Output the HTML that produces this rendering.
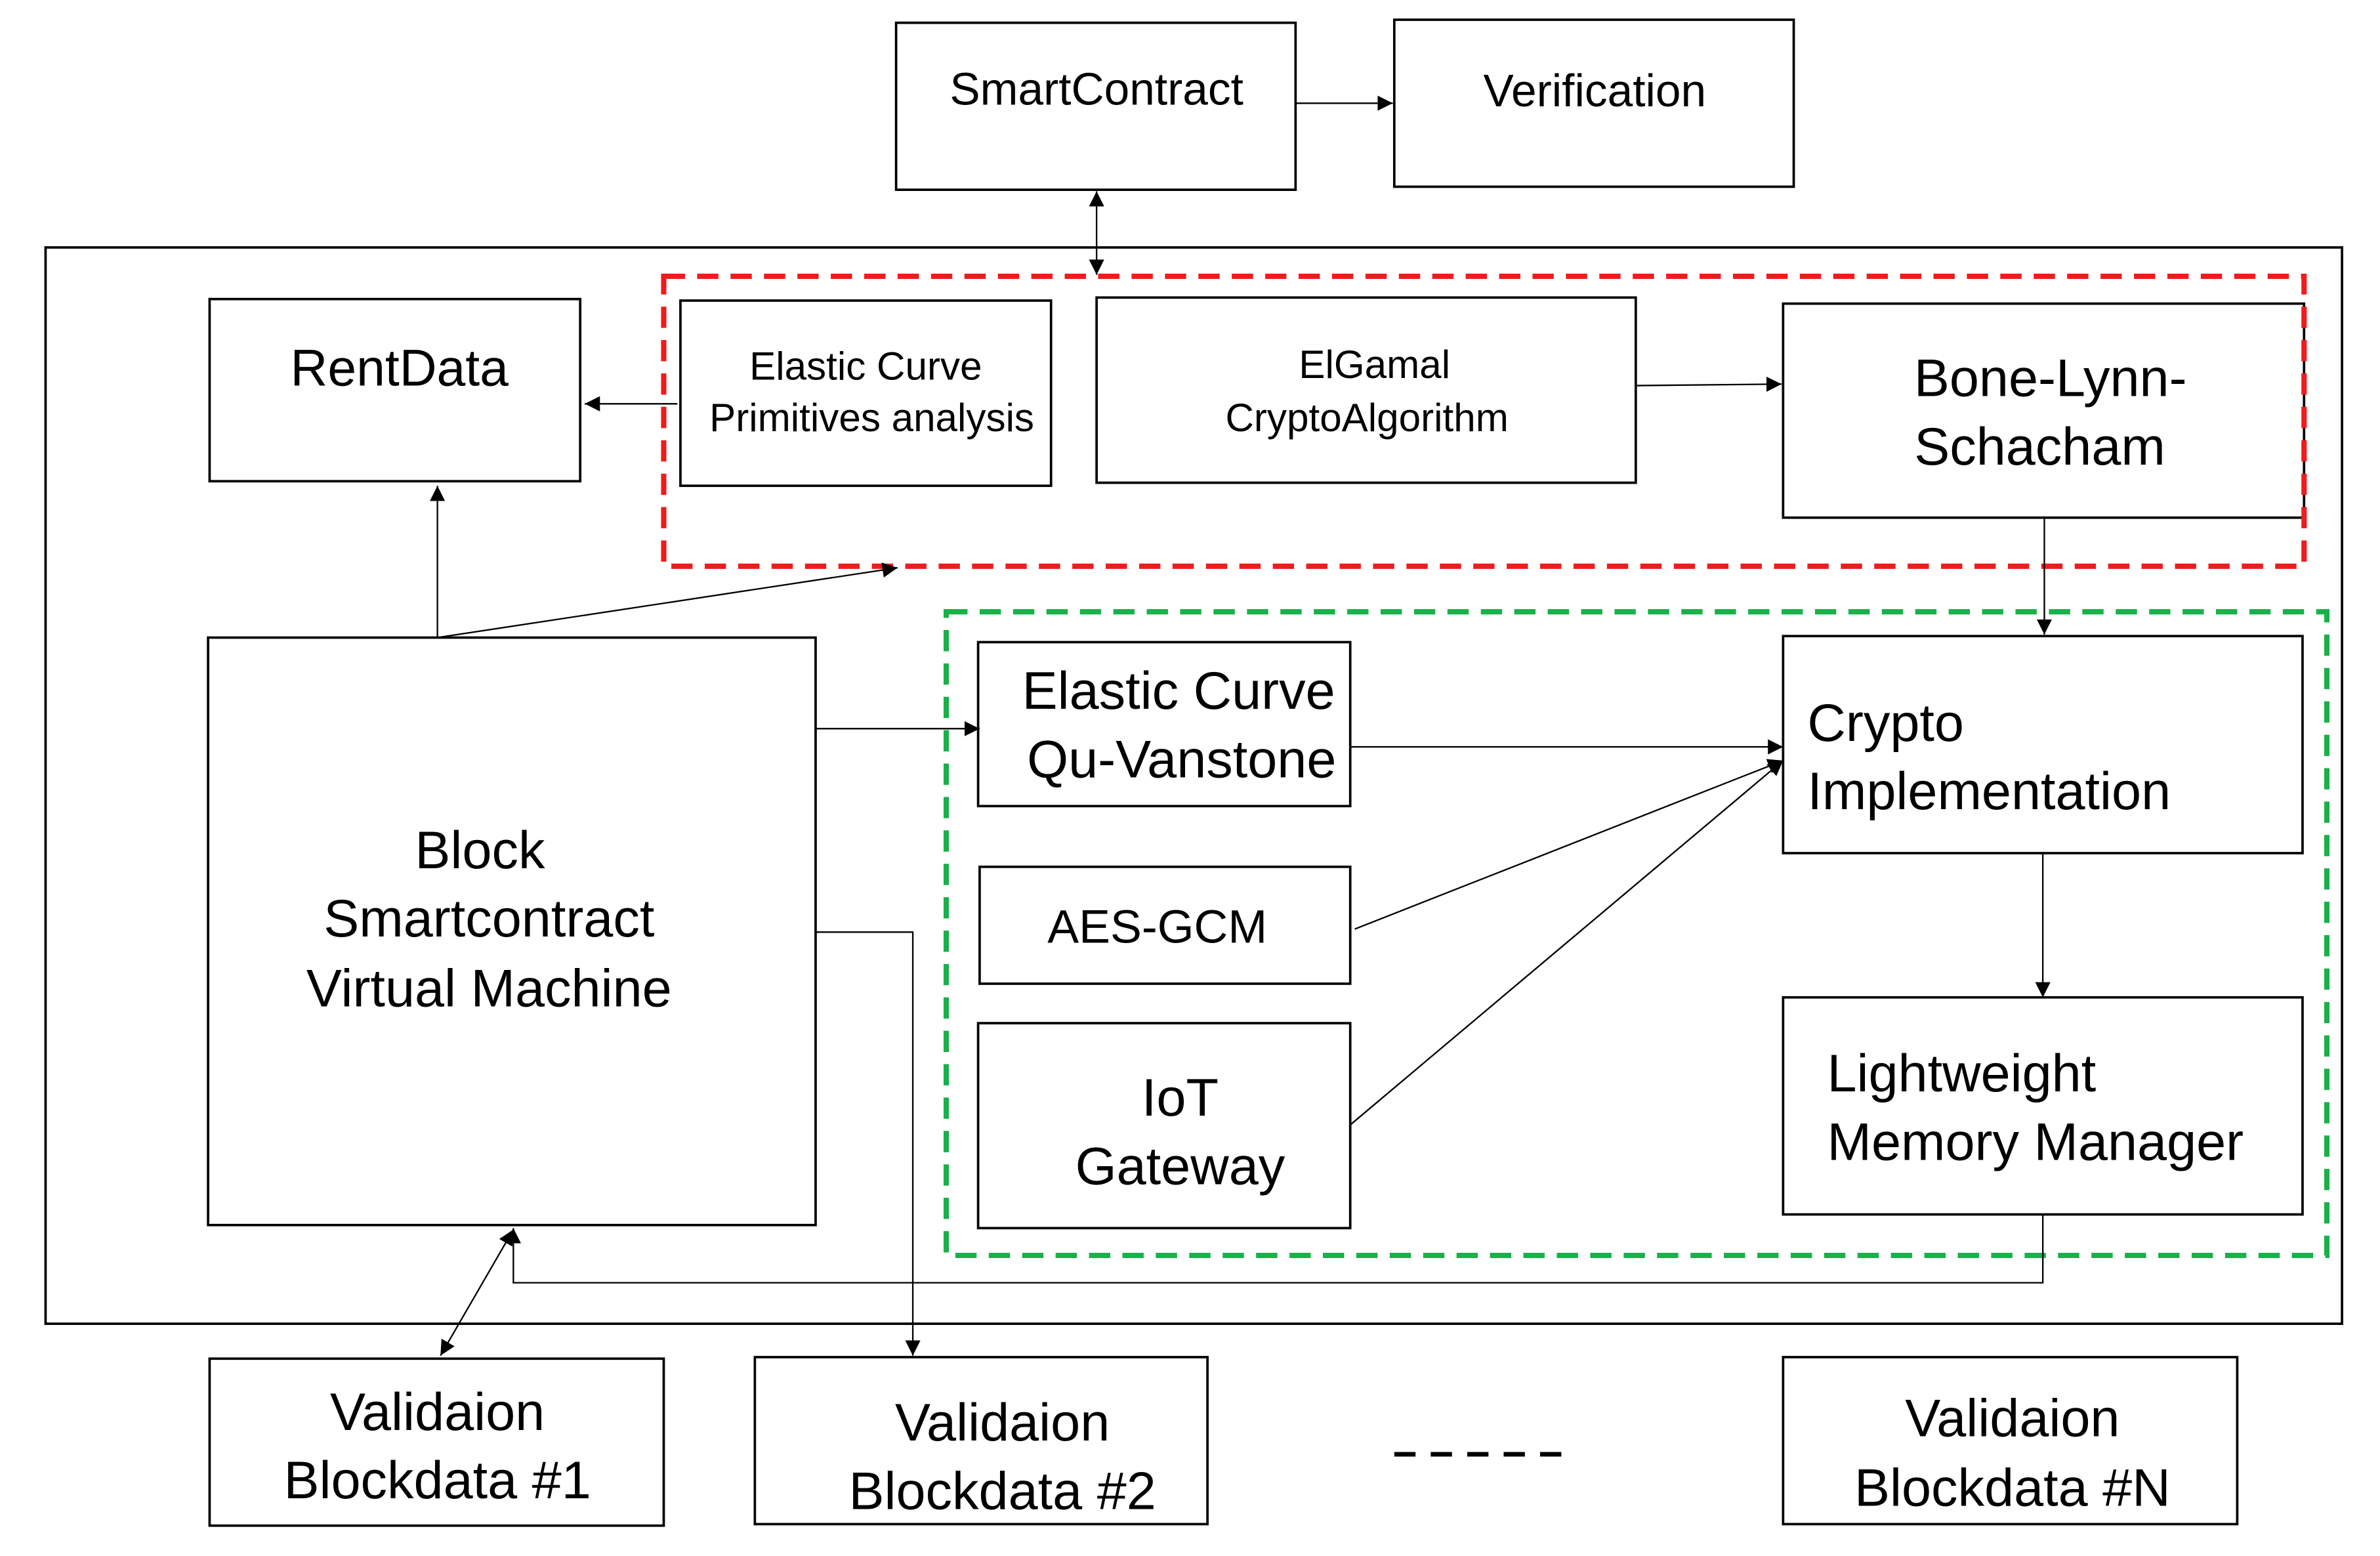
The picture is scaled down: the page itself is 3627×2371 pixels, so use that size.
<!DOCTYPE html>
<html><head><meta charset="utf-8"><style>
html,body{margin:0;padding:0;background:#fff;}
svg{display:block;}
text{font-family:"Liberation Sans",sans-serif;fill:#000;}
</style></head><body>
<svg width="3627" height="2371" viewBox="0 0 1567 1025" preserveAspectRatio="none" xmlns="http://www.w3.org/2000/svg">
<defs>
<marker id="b" viewBox="0 0 10 10" refX="10" refY="5" markerWidth="10" markerHeight="10" orient="auto-start-reverse" markerUnits="userSpaceOnUse"><path d="M0,0 L10,5 L0,10 z" fill="#000"/></marker>
</defs>
<rect width="1567" height="1025" fill="#fff"/>
<g fill="none" stroke="#000" stroke-width="1.6">
<rect x="590" y="15" width="263" height="110"/>
<rect x="918" y="13" width="263" height="110"/>
<rect x="30" y="163" width="1512" height="709"/>
<rect x="138" y="197" width="244" height="120"/>
<rect x="448" y="198" width="244" height="122"/>
<rect x="722" y="196" width="355" height="122"/>
<rect x="1174" y="200" width="343" height="141"/>
<rect x="137" y="420" width="400" height="387"/>
<rect x="644" y="423" width="245" height="108"/>
<rect x="1174" y="419" width="342" height="143"/>
<rect x="645" y="571" width="244" height="77"/>
<rect x="644" y="674" width="245" height="135"/>
<rect x="1174" y="657" width="342" height="143"/>
<rect x="138" y="895" width="299" height="110"/>
<rect x="497" y="894" width="298" height="110"/>
<rect x="1174" y="894" width="299" height="110"/>
</g>
<rect x="437" y="182" width="1080" height="191" fill="none" stroke="#ee1c1c" stroke-width="3.5" stroke-dasharray="14,8"/>
<rect x="623" y="403" width="909" height="424" fill="none" stroke="#1ab04a" stroke-width="3.5" stroke-dasharray="14,8"/>
<line x1="918" y1="958" x2="1030" y2="958" stroke="#000" stroke-width="3" stroke-dasharray="14,10"/>
<g stroke="#000" stroke-width="1" fill="none">
<line x1="853" y1="68" x2="917" y2="68" marker-end="url(#b)"/>
<line x1="722" y1="126" x2="722" y2="181" marker-start="url(#b)" marker-end="url(#b)"/>
<line x1="446" y1="266" x2="385" y2="266" marker-end="url(#b)"/>
<line x1="1077" y1="254" x2="1173" y2="253" marker-end="url(#b)"/>
<line x1="1346" y1="341" x2="1346" y2="418" marker-end="url(#b)"/>
<line x1="288" y1="420" x2="288" y2="320" marker-end="url(#b)"/>
<line x1="288" y1="420" x2="591" y2="374" marker-end="url(#b)"/>
<line x1="537" y1="480" x2="645" y2="480" marker-end="url(#b)"/>
<line x1="889" y1="492" x2="1174" y2="492" marker-end="url(#b)"/>
<line x1="892" y1="612" x2="1174" y2="501" marker-end="url(#b)"/>
<line x1="889" y1="741" x2="1174" y2="501" marker-end="url(#b)"/>
<line x1="1345" y1="562" x2="1345" y2="657" marker-end="url(#b)"/>
<polyline points="1345,800 1345,845 338,845 338,809" marker-end="url(#b)"/>
<line x1="338" y1="810" x2="290" y2="893" marker-start="url(#b)" marker-end="url(#b)"/>
<polyline points="537,614 601,614 601,893" marker-end="url(#b)"/>
</g>
<g text-anchor="middle">
<text x="722" y="69" font-size="30">SmartContract</text>
<text x="1050" y="70" font-size="30">Verification</text>
<text x="263" y="254" font-size="34">RentData</text>
<text x="570" y="250" font-size="26">Elastic Curve</text>
<text x="574" y="284" font-size="26">Primitives analysis</text>
<text x="905" y="249" font-size="26">ElGamal</text>
<text x="900" y="284" font-size="26">CryptoAlgorithm</text>
<text x="1350" y="261" font-size="35">Bone-Lynn-</text>
<text x="1343" y="306" font-size="35">Schacham</text>
<text x="316" y="572" font-size="35">Block</text>
<text x="322" y="617" font-size="35">Smartcontract</text>
<text x="322" y="663" font-size="35">Virtual Machine</text>
<text x="776" y="467" font-size="35">Elastic Curve</text>
<text x="778" y="512" font-size="35">Qu-Vanstone</text>
<text x="762" y="621" font-size="31">AES-GCM</text>
<text x="777" y="735" font-size="35">IoT</text>
<text x="777" y="780" font-size="35">Gateway</text>
<text x="288" y="942" font-size="35">Validaion</text>
<text x="288" y="987" font-size="35">Blockdata #1</text>
<text x="660" y="949" font-size="35">Validaion</text>
<text x="660" y="994" font-size="35">Blockdata #2</text>
<text x="1325" y="946" font-size="35">Validaion</text>
<text x="1325" y="992" font-size="35">Blockdata #N</text>
</g>
<text x="1190" y="488" font-size="35">Crypto</text>
<text x="1190" y="533" font-size="35">Implementation</text>
<text x="1203" y="719" font-size="35">Lightweight</text>
<text x="1203" y="764" font-size="35">Memory Manager</text>
</svg>
</body></html>
